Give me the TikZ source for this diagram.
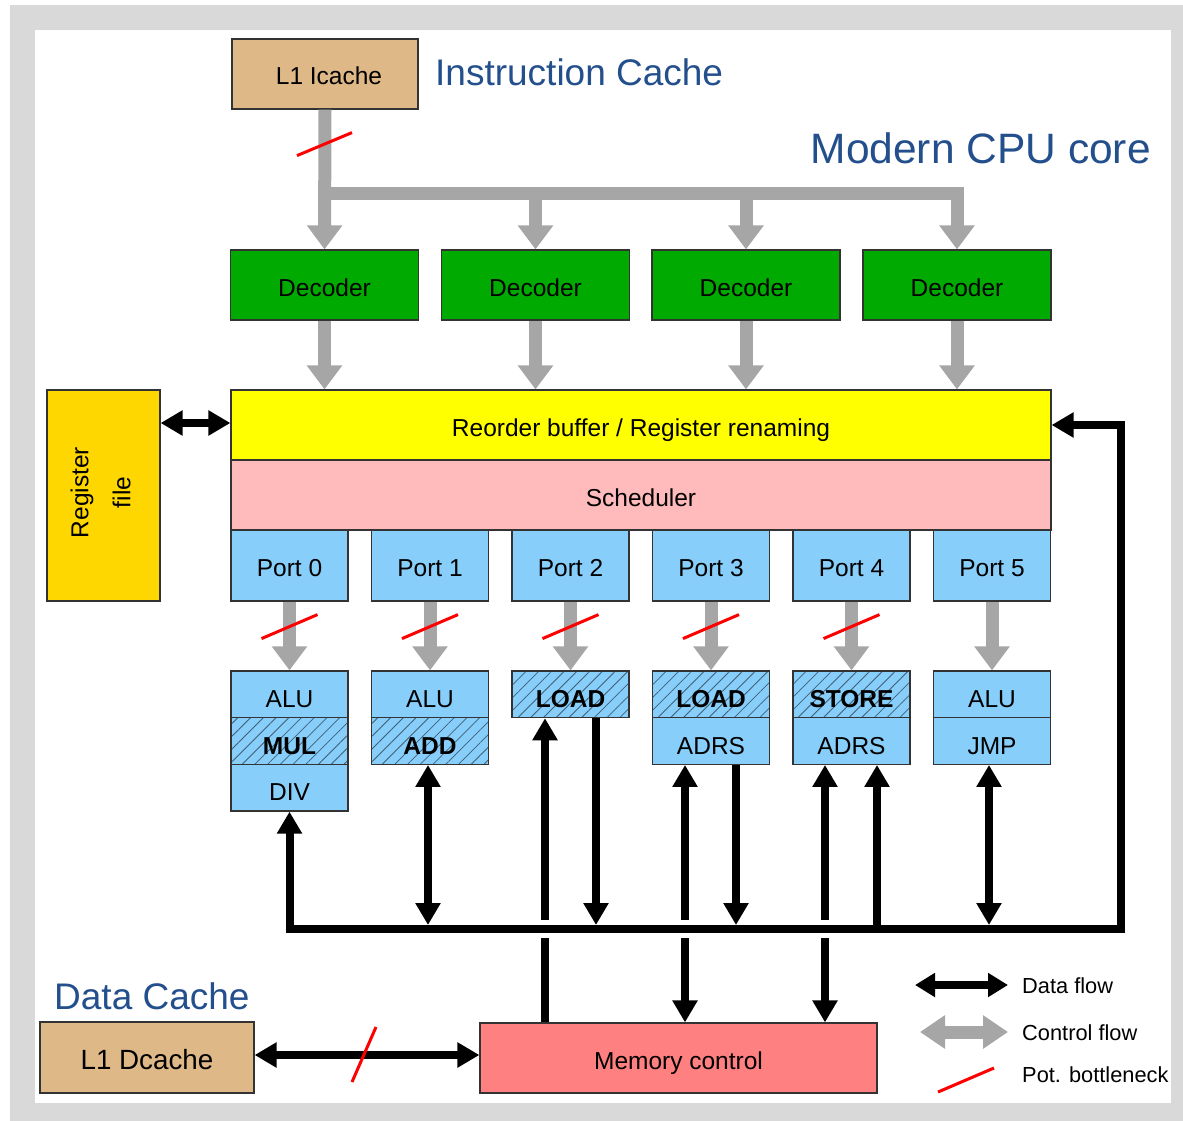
\documentclass[tikz,border=0pt]{standalone}
\usepackage{fontspec}
\setmainfont{Liberation Sans}
\usetikzlibrary{arrows.meta,calc,patterns.meta}

\definecolor{framegray}{HTML}{D9D9D9}
\definecolor{cachetan}{HTML}{DEB887}
\definecolor{decgreen}{RGB}{0,170,0}
\definecolor{robyellow}{HTML}{FFFF00}
\definecolor{schedpink}{HTML}{FFBBBB}
\definecolor{portblue}{HTML}{87CEFA}
\definecolor{regfgold}{HTML}{FFD700}
\definecolor{memred}{HTML}{FF8080}
\definecolor{ctrlgray}{HTML}{A6A6A6}
\definecolor{titleblue}{HTML}{234F8C}
\definecolor{boxline}{HTML}{333333}
\definecolor{hatchline}{HTML}{3F5F75}

\tikzset{
  dhead/.tip={Triangle[length=22pt,width=24pt]},
  chead/.tip={Triangle[length=24pt,width=34pt]},
  lghead/.tip={Triangle[length=20pt,width=23pt]},
  lgchead/.tip={Triangle[length=25pt,width=32pt]},
  box/.style={draw=boxline, line width=1.2pt, inner sep=0pt,
    font=\fontsize{24.5}{29}\selectfont, text=black,
    text height=22pt, text depth=0pt},
  unitbox/.style={box, fill=portblue, minimum width=117pt, minimum height=46.7pt,
    text height=26pt},
  hatched/.style={box, preaction={fill=portblue},
    pattern={Lines[angle=45,distance=9pt,line width=0.8pt]},
    pattern color=hatchline, minimum width=117pt, minimum height=46.7pt,
    text height=26pt, font=\fontsize{24.5}{29}\selectfont\bfseries},
  title/.style={inner sep=0pt, text=titleblue},
  ctrl/.style={draw=ctrlgray, line width=13pt, -chead},
  ctrlline/.style={draw=ctrlgray, line width=13pt, line join=miter},
  data/.style={draw=black, line width=8pt, line join=miter},
  bneck/.style={draw=red, line width=3pt},
  legend/.style={anchor=west, inner sep=0pt, font=\fontsize{21.8}{26}\selectfont}
}

\begin{document}
\begin{tikzpicture}[x=1pt,y=-1pt]
% page and frame
\useasboundingbox (0,0) rectangle (1183,1121);
\fill[white] (0,0) rectangle (1183,1121);
\fill[framegray] (10,5) rectangle (1183,1121);
\fill[white] (35,30) rectangle (1171,1103);

% titles
\node[title, anchor=west, font=\fontsize{37}{44}\selectfont] (tic) at (435,72) {Instruction Cache};
\node[title, anchor=east, font=\fontsize{42.5}{50}\selectfont] (tcpu) at (1151,148) {Modern CPU core};
\node[title, anchor=west, font=\fontsize{37}{44}\selectfont] (tdc) at (54,996) {Data Cache};

% instruction cache and decoders
\node[box, fill=cachetan, minimum width=186pt, minimum height=70pt] (ic) at (325,74) {\hspace*{8pt}L1 Icache};
\foreach \i/\x in {1/324.5, 2/535.5, 3/746, 4/957}
  \node[box, fill=decgreen, minimum width=188pt, minimum height=70pt] (dec\i) at (\x,285) {Decoder};

% reorder buffer, scheduler, register file
\node[box, fill=robyellow, minimum width=820pt, minimum height=70pt] (rob) at (641,425) {Reorder buffer / Register renaming};
\node[box, fill=schedpink, minimum width=820pt, minimum height=70pt] (sched) at (641,495) {Scheduler};
\node[draw=boxline, line width=1.2pt, fill=regfgold, minimum width=113pt, minimum height=211pt] (rf) at (103.5,495.5) {};
\node[rotate=90, align=center, inner sep=0pt, font=\fontsize{24.5}{42}\selectfont] (rftext) at ($(rf.center)+(-3,-3)$) {Register\\file};

% issue ports
\foreach \i/\x in {0/289.5, 1/430, 2/570.5, 3/711, 4/851.5, 5/992}
  \node[box, fill=portblue, minimum width=117pt, minimum height=71pt] (p\i) at (\x,565.5) {Port \i};

% execution units
\node[unitbox] (u0a) at (289.5,694.3) {ALU};
\node[hatched] (u0b) at (289.5,741) {MUL};
\node[unitbox] (u0c) at (289.5,787.7) {DIV};
\node[unitbox] (u1a) at (430,694.3) {ALU};
\node[hatched] (u1b) at (430,741) {ADD};
\node[hatched] (u2a) at (570.5,694.3) {LOAD};
\node[hatched] (u3a) at (711,694.3) {LOAD};
\node[unitbox] (u3b) at (711,741) {ADRS};
\node[hatched] (u4a) at (851.5,694.3) {STORE};
\node[unitbox] (u4b) at (851.5,741) {ADRS};
\node[unitbox] (u5a) at (992,694.3) {ALU};
\node[unitbox] (u5b) at (992,741) {JMP};

% caches and memory
\node[box, fill=cachetan, minimum width=214pt, minimum height=71pt, font=\fontsize{27.8}{33}\selectfont, text height=23pt] (dc) at (147,1057.5) {L1 Dcache};
\node[box, fill=memred, minimum width=397pt, minimum height=70pt] (mc) at (678.5,1058) {Memory control};

% control flow: fetch to decoders
\coordinate (br) at (325,193);
\draw[ctrl] (ic.south) -- (dec1.north);
\draw[ctrlline, -chead] (br) -- (br -| dec4.north) -- (dec4.north);
\draw[ctrl] (br -| dec2.north) -- (dec2.north);
\draw[ctrl] (br -| dec3.north) -- (dec3.north);
\draw[bneck] ($(ic.south)+(-28,46)$) -- +(55,-23);

% control flow: decoders to reorder buffer
\foreach \i in {1,...,4}
  \draw[ctrl] (dec\i.south) -- (dec\i.south |- rob.north);

% control flow: ports to units
\foreach \i in {0,...,5}
  \draw[ctrl] (p\i.south) -- (u\i a.north);
\foreach \i in {0,...,4}
  \draw[bneck] ($(p\i.south)+(-28,37)$) -- +(56,-24);

% attachment points under the units
\coordinate (x1) at ($(u1b.south)+(-2,0)$);
\coordinate (x2l) at ($(u2a.south)+(-25.5,0)$);
\coordinate (x2r) at ($(u2a.south)+(25.5,0)$);
\coordinate (x3l) at ($(u3b.south)+(-26,0)$);
\coordinate (x3r) at ($(u3b.south)+(25,0)$);
\coordinate (x4l) at ($(u4b.south)+(-26.5,0)$);
\coordinate (x4r) at ($(u4b.south)+(25.5,0)$);
\coordinate (x5) at ($(u5b.south)+(-3,0)$);

% data flow crossing the result bus
\draw[data, -dhead] (x2l |- mc.north) -- (x2l);
\draw[data, dhead-dhead] (x3l) -- (x3l |- mc.north);
\draw[data, dhead-dhead] (x4l) -- (x4l |- mc.north);

% result bus with gaps over crossing lines
\coordinate (busL) at (u0c.south |- 0,929);
\coordinate (busR) at (1121,929);
\draw[white, line width=18pt] (busL) -- (busR);
\draw[data, dhead-dhead] (u0c.south) -- (busL) -- (busR) -- (busR |- rob.east) -- (rob.east);

% data flow onto / from the bus
\coordinate (busT) at (0,925);
\draw[data, dhead-dhead] (x1) -- (x1 |- busT);
\draw[data, -dhead] (x2r) -- (x2r |- busT);
\draw[data, -dhead] (x3r) -- (x3r |- busT);
\draw[data, -dhead] (x4r |- busL) -- (x4r);
\draw[data, dhead-dhead] (x5) -- (x5 |- busT);

% register file and data cache links
\draw[data, dhead-dhead] (rf.east |- 0,423) -- (rob.west |- 0,423);
\draw[data, dhead-dhead] (dc.east |- 0,1055) -- (mc.west |- 0,1055);
\draw[bneck] ($(dc.east |- 0,1055)!0.5!(mc.west |- 0,1055)+(-15,27)$) -- +(24,-55);

% legend
\coordinate (lga1) at (915,985);
\coordinate (lga2) at (1008,985);
\coordinate (lgc1) at (920,1032);
\coordinate (lgc2) at (1008,1032);
\coordinate (lgb1) at (938,1092);
\coordinate (lgb2) at (994,1068);
\draw[data, lghead-lghead] (lga1) -- (lga2);
\draw[ctrlline, lgchead-lgchead] (lgc1) -- (lgc2);
\draw[bneck] (lgb1) -- (lgb2);
\node[legend] (lgt1) at (1022,986) {Data flow};
\node[legend] (lgt2) at (1022,1033) {Control flow};
\node[legend] (lgt3) at (1022,1075) {Pot. bottleneck};
\end{tikzpicture}
\end{document}
